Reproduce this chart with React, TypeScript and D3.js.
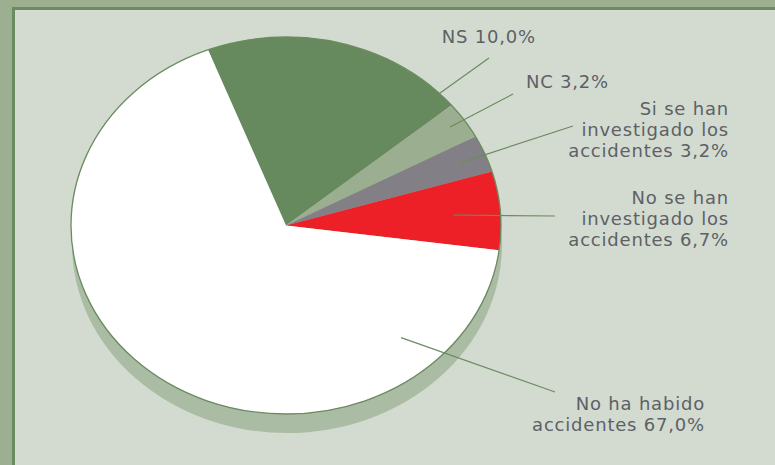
import React from "react";
import * as d3 from "d3";

// ---- data ----
const categories = ["NS", "NC", "Si se han investigado los accidentes", "No se han investigado los accidentes", "No ha habido accidentes"];
const sliceShares = [19.9, 3.2, 3.2, 6.7, 67.0]; // visible slice sizes (%)
const labelValues = ["10,0%", "3,2%", "3,2%", "6,7%", "67,0%"];
const labelLines = [
  ["NS 10,0%"],
  ["NC 3,2%"],
  ["Si se han", "investigado los", "accidentes 3,2%"],
  ["No se han", "investigado los", "accidentes 6,7%"],
  ["No ha habido", "accidentes 67,0%"],
];
const sliceColors = ["#668a5e", "#9bae8f", "#828086", "#ed2027", "#ffffff"];

// ---- layout ----
const W = 775, H = 465;
const cx = 286, cy = 225.5, rx = 215, ry = 188.5;
const startDeg = -21.3;
// leader inner point: [angleDeg, radius factor]; outer point; label anchor (right aligned)
const leaderInner: [number, number][] = [[45, 0.91], [55.6, 0.925], [67.7, 0.875], [85.9, 0.78], [138, 0.8]];
const leaderOuter: [number, number][] = [[489, 58], [513, 94], [573, 126], [555, 216], [555, 392]];
const labelAnchor: [number, number][] = [[536, 43], [609, 88], [729, 115], [729, 204], [705, 410]];
const lineH = 20.8;

export default function App() {
  const pie = d3.pie<number>().sort(null).value((d) => d)
    .startAngle((startDeg * Math.PI) / 180)
    .endAngle((startDeg * Math.PI) / 180 + 2 * Math.PI);
  const arcs = pie(sliceShares);
  const arc = d3.arc<d3.PieArcDatum<number>>().innerRadius(0).outerRadius(1);
  const pt = (deg: number, r: number) => {
    const a = (deg * Math.PI) / 180;
    return [cx + rx * r * Math.sin(a), cy - ry * r * Math.cos(a)];
  };
  return (
    <svg width={W} height={H} style={{ position: "absolute", left: 0, top: 0 }}>
      <rect x={0} y={0} width={W} height={H} fill="#9caf90" />
      <rect x={12} y={7} width={W} height={H} fill="#6b8b60" />
      <rect x={15} y={10} width={W} height={H} fill="#d3dbd0" />
      {/* 3D depth */}
      <ellipse cx={cx + 1} cy={cy + 19} rx={rx} ry={ry} fill="#abbca4" />
      <g transform={`translate(${cx},${cy}) scale(${rx},${ry})`}>
        {arcs.map((a, i) => (
          <path key={categories[i]} d={arc(a) || ""} fill={sliceColors[i]} />
        ))}
      </g>
      <ellipse cx={cx} cy={cy} rx={rx} ry={ry} fill="none" stroke="#6b8b60" strokeWidth={1.3} />
      {leaderInner.map(([deg, r], i) => {
        const [x1, y1] = pt(deg, r);
        const [x2, y2] = leaderOuter[i];
        return <line key={"l" + i} x1={x1} y1={y1} x2={x2} y2={y2} stroke="#6b8b60" strokeWidth={1.2} />;
      })}
      {labelLines.map((lines, i) => (
        <text key={"t" + i} x={labelAnchor[i][0]} y={labelAnchor[i][1]} textAnchor="end"
          fontFamily="'DejaVu Sans', Verdana, sans-serif" fontSize={18} letterSpacing={0.8} fill="#5d6166">
          {lines.map((s, j) => (
            <tspan key={j} x={labelAnchor[i][0]} dy={j === 0 ? 0 : lineH}>{s}</tspan>
          ))}
        </text>
      ))}
    </svg>
  );
}
